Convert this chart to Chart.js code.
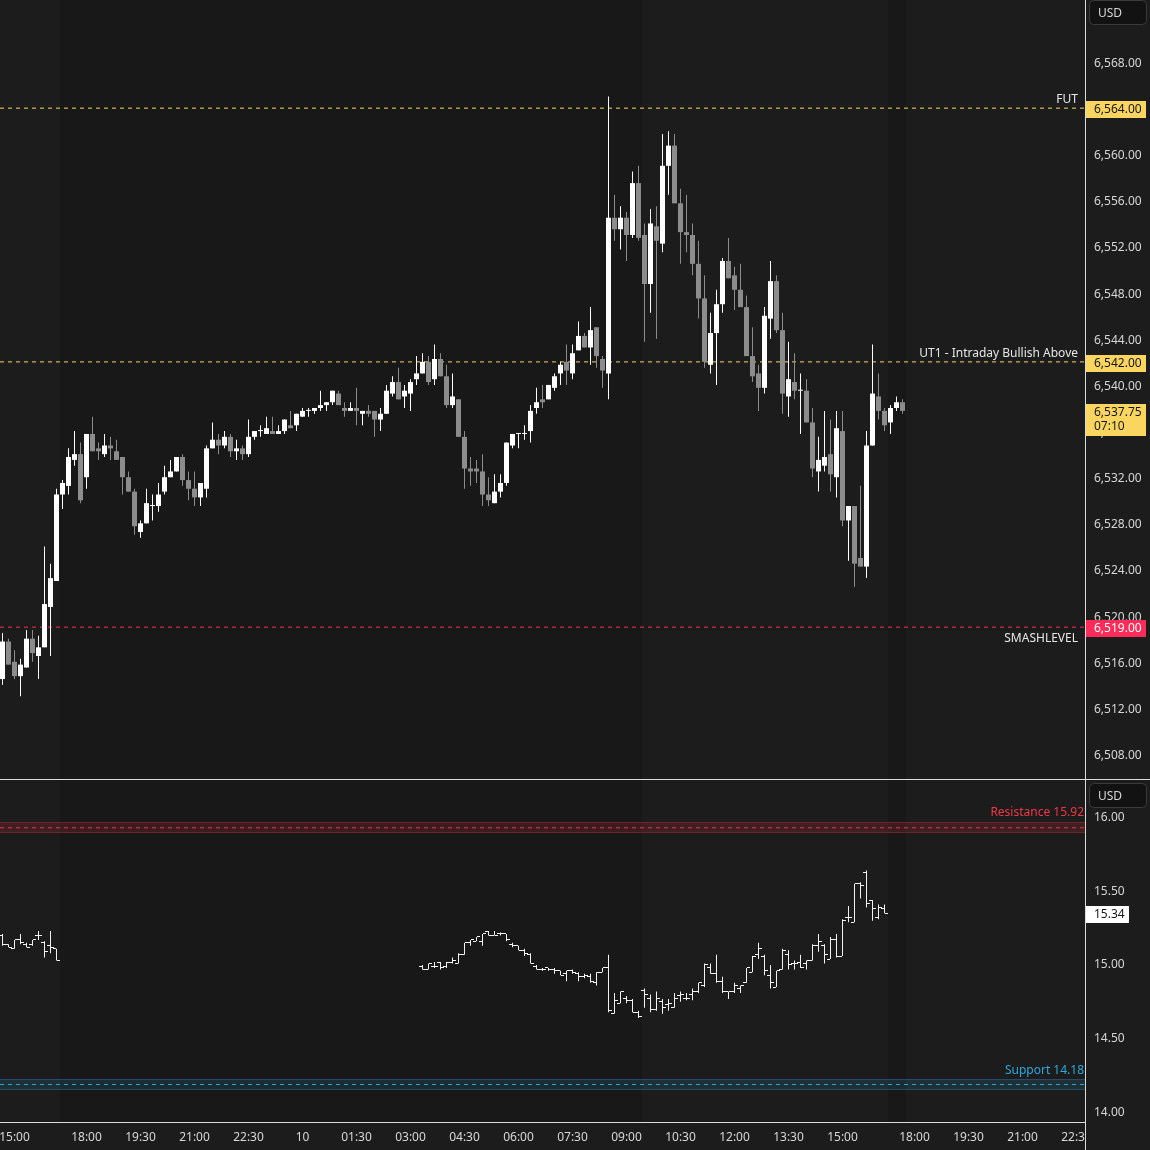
<!DOCTYPE html>
<html>
<head>
<meta charset="utf-8">
<script src="https://cdn.jsdelivr.net/npm/chart.js@4.4.1/dist/chart.umd.min.js"></script>
<style>
  html, body { margin: 0; padding: 0; background: #1c1c1c; }
  #wrap { width: 1150px; height: 1150px; }
</style>
</head>
<body>
<div id="wrap"><canvas id="chart" width="1150" height="1150"></canvas></div>
<script>
// ES 10 minute bars, bar index 0 = first bar on screen
const esOpen = [
  6514.50, 6517.75, 6516.00, 6514.75, 6515.50, 6518.00, 6516.50, 6517.25, 6520.75, 6523.00,
  6530.50, 6531.25, 6533.50, 6534.00, 6532.00, 6535.75, 6534.50, 6534.00, 6534.75, 6534.25,
  6533.75, 6532.00, 6530.75, 6527.25, 6528.00, 6529.50, 6529.50, 6530.75, 6532.00, 6532.50,
  6533.75, 6531.75, 6531.00, 6530.25, 6531.00, 6534.50, 6535.25, 6534.75, 6535.50, 6534.25,
  6534.50, 6534.00, 6535.50, 6536.00, 6535.75, 6536.00, 6535.75, 6536.00, 6536.50, 6536.50,
  6537.25, 6537.75, 6537.75, 6538.00, 6538.25, 6538.50, 6539.25, 6538.00, 6537.75, 6538.00,
  6537.50, 6537.75, 6537.75, 6537.00, 6537.50, 6539.25, 6540.25, 6539.00, 6539.25, 6540.50,
  6541.00, 6542.00, 6540.50, 6542.25, 6540.75, 6538.25, 6538.75, 6535.50, 6532.75, 6532.75,
  6532.50, 6530.50, 6529.75, 6530.75, 6531.50, 6534.75, 6535.75, 6535.75, 6536.00, 6538.00,
  6538.75, 6538.75, 6539.75, 6541.00, 6542.00, 6541.00, 6543.00, 6544.25, 6543.25, 6545.00,
  6542.25, 6541.00, 6554.50, 6553.50, 6554.50, 6553.00, 6557.50, 6553.00, 6548.75, 6553.75,
  6552.25, 6559.00, 6560.75, 6555.75, 6553.25, 6553.00, 6550.50, 6547.50, 6541.75, 6544.50,
  6547.00, 6550.75, 6549.50, 6548.25, 6546.75, 6542.50, 6541.00, 6539.75, 6545.75, 6549.00,
  6544.75, 6539.00, 6540.25, 6539.50, 6539.50, 6536.75, 6532.50, 6533.00, 6534.00, 6532.00,
  6536.00, 6528.25, 6529.50, 6525.00, 6524.25, 6534.75, 6539.00, 6537.75, 6536.75, 6538.00,
  6538.50
];
const esHigh = [
  6518.50, 6518.00, 6517.00, 6516.25, 6518.75, 6518.75, 6518.25, 6526.00, 6524.50, 6531.00,
  6531.75, 6534.50, 6536.00, 6535.00, 6535.75, 6537.25, 6535.00, 6535.75, 6535.50, 6535.25,
  6533.75, 6532.50, 6531.00, 6528.25, 6531.00, 6530.50, 6531.50, 6533.00, 6533.50, 6533.75,
  6534.00, 6532.50, 6532.50, 6531.50, 6534.75, 6536.75, 6535.75, 6536.00, 6535.75, 6535.25,
  6534.75, 6537.00, 6536.00, 6536.50, 6537.25, 6537.25, 6536.50, 6537.00, 6537.75, 6537.50,
  6538.00, 6538.00, 6538.00, 6539.50, 6538.50, 6539.50, 6539.50, 6538.50, 6538.50, 6539.75,
  6537.75, 6538.25, 6537.75, 6538.00, 6540.00, 6540.75, 6541.50, 6540.00, 6540.50, 6542.50,
  6542.75, 6542.50, 6543.50, 6542.75, 6541.75, 6541.00, 6538.75, 6536.00, 6533.75, 6533.50,
  6534.00, 6532.00, 6532.25, 6532.25, 6535.00, 6535.75, 6535.75, 6536.50, 6538.25, 6539.75,
  6540.00, 6540.00, 6541.00, 6542.00, 6543.50, 6543.50, 6545.50, 6544.50, 6546.75, 6545.00,
  6542.50, 6565.00, 6556.50, 6555.50, 6555.00, 6558.50, 6559.00, 6554.00, 6555.25, 6555.50,
  6561.75, 6562.00, 6561.75, 6557.00, 6556.50, 6554.00, 6552.50, 6549.50, 6546.25, 6548.25,
  6551.00, 6552.75, 6550.25, 6550.50, 6547.75, 6545.00, 6541.75, 6546.75, 6550.75, 6549.50,
  6546.25, 6543.75, 6542.75, 6541.00, 6540.50, 6538.00, 6535.50, 6537.75, 6537.00, 6537.75,
  6537.75, 6529.50, 6529.50, 6531.25, 6536.00, 6543.50, 6541.00, 6538.00, 6538.25, 6539.00,
  6538.75
];
const esLow = [
  6514.00, 6515.75, 6514.50, 6513.00, 6515.50, 6516.00, 6514.50, 6517.25, 6516.50, 6523.00,
  6529.25, 6530.50, 6533.00, 6529.75, 6531.00, 6534.25, 6533.50, 6533.75, 6533.50, 6533.50,
  6530.50, 6530.75, 6527.00, 6526.75, 6528.00, 6528.25, 6529.00, 6530.50, 6532.00, 6532.50,
  6531.25, 6530.00, 6529.50, 6529.50, 6530.25, 6534.50, 6534.00, 6534.50, 6533.75, 6533.50,
  6533.50, 6533.75, 6535.25, 6535.50, 6535.75, 6535.75, 6535.75, 6535.75, 6536.25, 6536.00,
  6537.25, 6537.25, 6537.50, 6537.75, 6537.75, 6538.25, 6538.25, 6537.25, 6537.75, 6536.50,
  6536.50, 6537.25, 6535.50, 6536.00, 6537.50, 6539.00, 6538.75, 6538.00, 6537.75, 6540.00,
  6541.00, 6540.00, 6540.00, 6540.75, 6538.00, 6538.00, 6535.50, 6531.00, 6531.25, 6531.50,
  6529.50, 6529.50, 6529.75, 6530.25, 6531.25, 6534.50, 6534.50, 6535.25, 6535.00, 6537.50,
  6538.00, 6538.75, 6539.50, 6540.00, 6540.00, 6540.50, 6543.00, 6543.25, 6541.75, 6541.50,
  6539.75, 6538.75, 6552.50, 6551.75, 6550.75, 6552.75, 6552.50, 6543.75, 6546.25, 6544.00,
  6551.50, 6556.50, 6555.75, 6550.50, 6551.50, 6549.50, 6545.75, 6541.50, 6541.00, 6540.00,
  6546.25, 6549.25, 6546.50, 6546.75, 6542.50, 6540.25, 6537.75, 6539.25, 6544.00, 6544.50,
  6537.50, 6537.25, 6538.75, 6535.75, 6536.75, 6532.00, 6530.75, 6532.50, 6530.75, 6530.25,
  6527.75, 6524.75, 6522.50, 6524.25, 6523.25, 6534.75, 6537.00, 6536.00, 6535.75, 6537.75,
  6537.50
];
const esClose = [
  6517.75, 6515.75, 6514.75, 6515.75, 6518.00, 6516.75, 6517.25, 6521.00, 6523.25, 6530.50,
  6531.50, 6533.75, 6534.00, 6530.00, 6535.75, 6534.25, 6534.25, 6534.75, 6534.50, 6533.50,
  6532.00, 6530.75, 6527.75, 6528.00, 6529.75, 6529.50, 6530.50, 6532.00, 6532.50, 6533.75,
  6531.75, 6531.00, 6530.25, 6531.50, 6534.50, 6535.25, 6534.75, 6535.50, 6534.25, 6534.50,
  6534.00, 6535.50, 6536.00, 6536.00, 6536.25, 6535.75, 6536.00, 6537.00, 6536.25, 6537.50,
  6537.75, 6537.75, 6538.00, 6538.25, 6538.50, 6539.50, 6538.25, 6537.75, 6538.00, 6537.75,
  6537.75, 6537.50, 6537.00, 6537.50, 6539.50, 6540.25, 6538.75, 6539.50, 6540.25, 6541.00,
  6542.00, 6540.25, 6542.25, 6540.75, 6538.25, 6539.00, 6535.50, 6532.75, 6532.50, 6532.50,
  6530.50, 6530.00, 6530.75, 6531.50, 6535.00, 6535.75, 6535.75, 6535.75, 6537.75, 6538.50,
  6538.50, 6540.00, 6540.75, 6541.75, 6541.25, 6542.75, 6544.25, 6543.25, 6544.75, 6542.50,
  6541.25, 6554.50, 6553.50, 6554.50, 6553.00, 6557.50, 6552.75, 6548.75, 6554.00, 6552.50,
  6559.00, 6560.75, 6555.75, 6553.25, 6553.00, 6550.50, 6547.50, 6542.00, 6544.50, 6547.00,
  6550.75, 6549.25, 6548.25, 6546.75, 6542.50, 6540.75, 6539.75, 6546.00, 6549.00, 6544.75,
  6539.25, 6540.50, 6539.50, 6539.50, 6536.75, 6532.75, 6533.50, 6533.75, 6532.25, 6536.25,
  6528.25, 6529.50, 6524.50, 6524.25, 6534.75, 6539.25, 6537.75, 6536.50, 6538.00, 6538.50,
  6537.75
];

// lower pane, [open, high, low, close]; two trading stretches
const vixStartA = 0;
const vixA = [
  [15.19, 15.20, 15.12, 15.13], [15.13, 15.13, 15.11, 15.11], [15.10, 15.16, 15.10, 15.16],
  [15.16, 15.20, 15.13, 15.14], [15.13, 15.14, 15.11, 15.11], [15.13, 15.16, 15.12, 15.16],
  [15.19, 15.22, 15.16, 15.19], [15.14, 15.15, 15.04, 15.08], [15.12, 15.22, 15.07, 15.11],
  [15.10, 15.10, 15.02, 15.02]
];
const vixStartB = 70;
const vixB = [
  [14.98, 14.99, 14.96, 14.96], [14.96, 15.00, 14.96, 15.00], [14.98, 15.01, 14.97, 14.98],
  [15.01, 15.01, 14.96, 14.97], [14.98, 15.01, 14.97, 15.01], [15.01, 15.04, 15.00, 15.02],
  [15.00, 15.07, 15.00, 15.06], [15.06, 15.14, 15.06, 15.14], [15.14, 15.16, 15.12, 15.16],
  [15.15, 15.18, 15.15, 15.18], [15.15, 15.20, 15.12, 15.20], [15.22, 15.22, 15.19, 15.19],
  [15.19, 15.22, 15.19, 15.19], [15.20, 15.21, 15.19, 15.20], [15.20, 15.20, 15.15, 15.16],
  [15.13, 15.14, 15.11, 15.12], [15.12, 15.12, 15.09, 15.09], [15.09, 15.10, 15.05, 15.07],
  [15.06, 15.07, 15.00, 15.00], [14.98, 14.99, 14.96, 14.96], [14.96, 14.97, 14.95, 14.96],
  [14.97, 14.97, 14.95, 14.96], [14.96, 14.97, 14.93, 14.95], [14.95, 14.95, 14.92, 14.92],
  [14.93, 14.95, 14.88, 14.95], [14.95, 14.96, 14.93, 14.94], [14.93, 14.94, 14.88, 14.91],
  [14.91, 14.93, 14.90, 14.92], [14.91, 14.93, 14.87, 14.88], [14.87, 14.94, 14.85, 14.94],
  [14.94, 14.97, 14.94, 14.97], [14.97, 15.06, 14.67, 14.68], [14.66, 14.80, 14.66, 14.75],
  [14.73, 14.81, 14.73, 14.81], [14.76, 14.78, 14.73, 14.75], [14.75, 14.76, 14.67, 14.67],
  [14.67, 14.68, 14.63, 14.64], [14.82, 14.83, 14.70, 14.79], [14.76, 14.79, 14.67, 14.69],
  [14.69, 14.81, 14.68, 14.76], [14.74, 14.76, 14.66, 14.70], [14.72, 14.76, 14.68, 14.73],
  [14.70, 14.80, 14.70, 14.76], [14.78, 14.81, 14.74, 14.79], [14.76, 14.80, 14.75, 14.76],
  [14.79, 14.83, 14.75, 14.81], [14.81, 14.87, 14.80, 14.87], [14.85, 15.00, 14.84, 14.99],
  [14.97, 15.00, 14.93, 14.93], [14.93, 15.06, 14.87, 14.88], [14.88, 14.91, 14.80, 14.81],
  [14.81, 14.81, 14.76, 14.81], [14.81, 14.87, 14.80, 14.85], [14.83, 14.85, 14.80, 14.85],
  [14.87, 14.97, 14.87, 14.97], [14.94, 15.05, 14.94, 15.05], [15.06, 15.14, 15.03, 15.10],
  [15.05, 15.06, 14.92, 14.95], [14.92, 14.99, 14.83, 14.87], [14.84, 14.95, 14.84, 14.95],
  [14.96, 15.10, 14.96, 15.09], [15.06, 15.09, 14.96, 14.99], [15.00, 15.02, 14.96, 15.00],
  [15.01, 15.06, 14.97, 14.97], [15.00, 15.02, 14.96, 15.02], [15.02, 15.13, 15.02, 15.12],
  [15.12, 15.20, 15.08, 15.15], [15.12, 15.13, 15.00, 15.06], [15.03, 15.18, 15.03, 15.16],
  [15.16, 15.20, 15.04, 15.05], [15.05, 15.30, 15.05, 15.29], [15.31, 15.39, 15.28, 15.31],
  [15.28, 15.54, 15.28, 15.54], [15.54, 15.55, 15.44, 15.53], [15.62, 15.63, 15.38, 15.41],
  [15.43, 15.43, 15.29, 15.37], [15.31, 15.40, 15.30, 15.38], [15.37, 15.40, 15.34, 15.34]
];

const esTicks = [6508, 6512, 6516, 6520, 6524, 6528, 6532, 6536, 6540, 6544, 6548, 6552, 6556, 6560, 6564, 6568];
const vixTicks = [14.00, 14.50, 15.00, 15.50, 16.00];
const timeTickBars = [2, 14, 23, 32, 41, 50, 59, 68, 77, 86, 95, 104, 113, 122, 131, 140, 152, 161, 170, 179];
const timeTickLabels = ['15:00', '18:00', '19:30', '21:00', '22:30', '10', '01:30', '03:00', '04:30', '06:00',
  '07:30', '09:00', '10:30', '12:00', '13:30', '15:00', '18:00', '19:30', '21:00', '22:30'];

// extended hours (darker background), in bar index units
const ethRanges = [[9.5, 106.5], [147.5, 150.5]];

// levels
const esLevelNames = ['FUT', 'UT1 - Intraday Bullish Above', 'SMASHLEVEL'];
const esLevelPrices = [6564, 6542, 6519];
const esLastPrice = 6537.75;
const barCountdown = '07:10';
const vixLevelNames = ['Resistance', 'Support'];
const vixLevelValues = [15.92, 14.18];
const vixLast = 15.34;

const X_MIN = -5 / 12, X_MAX = 180 + 5 / 12;
const BG = '#1c1c1c', BG_ETH = '#181818';
const UP = '#ffffff', DOWN = '#8c8c8c';
const YELLOW = '#fad560', PINK = '#ff2b58', RED = '#f23645', BLUE = '#2aa8e0';
const TXT = '#d6d6d6';
const FONT = "'Noto Sans', sans-serif";
const DY = 1.5; // nudge canvas text down to match the glyph centres

Chart.defaults.font.family = FONT;
Chart.defaults.font.size = 12;
Chart.defaults.color = TXT;

const esColors = esOpen.map((o, i) => esClose[i] >= o ? UP : DOWN);

const vixRows = [];
vixA.forEach((r, i) => vixRows.push({ x: vixStartA + i, r }));
vixB.forEach((r, i) => vixRows.push({ x: vixStartB + i, r }));

// little tick marks for the OHLC bars (left = open, right = close)
function tickImage(side) {
  const c = document.createElement('canvas');
  c.width = 7; c.height = 1;
  const g = c.getContext('2d');
  g.fillStyle = '#f2f2f2';
  if (side === 'open') g.fillRect(0, 0, 3, 1);
  else g.fillRect(4, 0, 3, 1);
  return c;
}

function levelLine(value, color, axis) {
  return {
    type: 'line', yAxisID: axis, order: 10,
    data: [{ x: X_MIN, y: value }, { x: X_MAX, y: value }],
    borderColor: color, borderWidth: 1, borderDash: [4, 4],
    pointRadius: 0
  };
}

function noPad(s) {
  s.paddingLeft = 0; s.paddingRight = 0; s.paddingTop = 0; s.paddingBottom = 0;
}

const fmtPrice = v => Number(v).toLocaleString('en-US', { minimumFractionDigits: 2, maximumFractionDigits: 2 });

const decor = {
  id: 'decor',
  beforeDraw(chart) {
    const { ctx, chartArea: a, scales: { x, yBot } } = chart;
    ctx.save();
    ctx.fillStyle = BG;
    ctx.fillRect(0, 0, chart.width, chart.height);
    ctx.fillStyle = BG_ETH;
    ethRanges.forEach(([s, e]) => {
      const x0 = Math.round(x.getPixelForValue(s)), x1 = Math.round(x.getPixelForValue(e));
      ctx.fillRect(x0, a.top, x1 - x0, a.bottom - a.top);
    });
    // support / resistance zones
    const zones = [[vixLevelValues[0], 'rgba(242,54,69,0.16)', 'rgba(242,54,69,0.28)'],
                   [vixLevelValues[1], 'rgba(42,168,224,0.14)', 'rgba(42,168,224,0.26)']];
    zones.forEach(([v, fill, edge]) => {
      const y0 = Math.round(yBot.getPixelForValue(v + 0.037)), y1 = Math.round(yBot.getPixelForValue(v - 0.037));
      ctx.fillStyle = fill;
      ctx.fillRect(a.left, y0, a.right - a.left, y1 - y0);
      ctx.fillStyle = edge;
      ctx.fillRect(a.left, y0, a.right - a.left, 1);
      ctx.fillRect(a.left, y1 - 1, a.right - a.left, 1);
    });
    ctx.restore();
  },
  afterDatasetsDraw(chart) {
    const { ctx, chartArea: a, scales: { yTop, yBot } } = chart;
    ctx.save();
    ctx.font = '12px ' + FONT;
    ctx.textAlign = 'right';
    ctx.textBaseline = 'middle';
    ctx.fillStyle = '#e6e6e6';
    esLevelNames.forEach((name, i) => {
      const y = yTop.getPixelForValue(esLevelPrices[i]) + DY;
      ctx.fillText(name, a.right - 7, name === 'SMASHLEVEL' ? y + 10 : y - 10);
    });
    ctx.fillStyle = RED;
    ctx.fillText(vixLevelNames[0] + ' ' + vixLevelValues[0].toFixed(2), a.right - 1, yBot.getPixelForValue(vixLevelValues[0]) - 17 + DY);
    ctx.fillStyle = BLUE;
    ctx.fillText(vixLevelNames[1] + ' ' + vixLevelValues[1].toFixed(2), a.right - 1, yBot.getPixelForValue(vixLevelValues[1]) - 15 + DY);
    ctx.restore();
  },
  afterDraw(chart) {
    const { ctx, chartArea: a, scales: { yTop, yBot } } = chart;
    const W = chart.width, H = chart.height;
    ctx.save();
    // clip the time labels at the price scale
    ctx.fillStyle = BG;
    ctx.fillRect(a.right + 1, a.bottom + 1, W - a.right, H - a.bottom);
    // frame lines
    ctx.fillStyle = '#dcdcdc';
    ctx.fillRect(a.right, 0, 1, H);
    ctx.fillRect(0, Math.round(yTop.bottom), W, 1);
    ctx.fillRect(0, a.bottom, a.right, 1);

    ctx.font = '12px ' + FONT;
    ctx.textBaseline = 'middle';
    ctx.textAlign = 'left';
    const bx = a.right + 1, tx = a.right + 9;
    function badge(y, h, fill, color, lines, w) {
      ctx.fillStyle = fill;
      ctx.fillRect(bx, Math.round(y - 7), w || 60, h);
      ctx.fillStyle = color;
      lines.forEach((t, i) => ctx.fillText(t, tx, y + DY + i * 14));
    }
    badge(yTop.getPixelForValue(esLevelPrices[0]), 17, YELLOW, '#151515', [fmtPrice(esLevelPrices[0])]);
    badge(yTop.getPixelForValue(esLevelPrices[1]), 17, YELLOW, '#151515', [fmtPrice(esLevelPrices[1])]);
    badge(yTop.getPixelForValue(esLastPrice), 32, YELLOW, '#151515', [fmtPrice(esLastPrice), barCountdown]);
    badge(yTop.getPixelForValue(esLevelPrices[2]), 17, PINK, '#ffffff', [fmtPrice(esLevelPrices[2])]);
    badge(yBot.getPixelForValue(vixLast), 17, '#ffffff', '#151515', [vixLast.toFixed(2)], 43);

    // currency boxes
    [yTop.top, yBot.top].forEach(top => {
      const y0 = top + (top === yTop.top ? 0 : 4);
      ctx.beginPath();
      ctx.roundRect(a.right + 4.5, y0 + 0.5, 57, 24, 4);
      ctx.fillStyle = '#121212';
      ctx.fill();
      ctx.strokeStyle = '#3a3a3a';
      ctx.lineWidth = 1;
      ctx.stroke();
      ctx.fillStyle = TXT;
      ctx.fillText('USD', a.right + 13, y0 + 12.5 + DY);
    });
    ctx.restore();
  }
};

new Chart(document.getElementById('chart').getContext('2d'), {
  type: 'bar',
  data: {
    datasets: [
      {
        label: 'ES bodies', yAxisID: 'yTop', order: 0,
        data: esOpen.map((o, i) => ({ x: i, y: [o, esClose[i]] })),
        backgroundColor: esColors, barThickness: 5, minBarLength: 1,
        grouped: false, inflateAmount: 0
      },
      {
        label: 'ES wicks', yAxisID: 'yTop', order: 1,
        data: esHigh.map((h, i) => ({ x: i, y: [esLow[i], h] })),
        backgroundColor: esColors, barThickness: 1, minBarLength: 1,
        grouped: false, inflateAmount: 0
      },
      {
        label: 'VIX range', yAxisID: 'yBot', order: 1,
        data: vixRows.map(d => ({ x: d.x, y: [d.r[2], d.r[1]] })),
        backgroundColor: '#f2f2f2', barThickness: 1, minBarLength: 1,
        grouped: false, inflateAmount: 0
      },
      {
        type: 'line', label: 'VIX open', yAxisID: 'yBot', order: 0, showLine: false,
        data: vixRows.map(d => ({ x: d.x, y: d.r[0] })),
        pointStyle: tickImage('open'), pointRadius: 2
      },
      {
        type: 'line', label: 'VIX close', yAxisID: 'yBot', order: 0, showLine: false,
        data: vixRows.map(d => ({ x: d.x, y: d.r[3] })),
        pointStyle: tickImage('close'), pointRadius: 2
      },
      levelLine(esLevelPrices[0], YELLOW, 'yTop'),
      levelLine(esLevelPrices[1], YELLOW, 'yTop'),
      levelLine(esLevelPrices[2], PINK, 'yTop'),
      levelLine(vixLevelValues[0], RED, 'yBot'),
      levelLine(vixLevelValues[1], BLUE, 'yBot')
    ]
  },
  options: {
    responsive: false,
    devicePixelRatio: 1,
    animation: false,
    events: [],
    layout: { padding: 0, autoPadding: false },
    plugins: { legend: { display: false }, tooltip: { enabled: false } },
    scales: {
      x: {
        type: 'linear', position: 'bottom', min: X_MIN, max: X_MAX, offset: false,
        grid: { display: false, drawTicks: false }, border: { display: false },
        afterBuildTicks: s => { s.ticks = timeTickBars.map(v => ({ value: v })); },
        afterFit: s => { s.height = 28; noPad(s); },
        ticks: {
          autoSkip: false, maxRotation: 0, minRotation: 0, padding: 8, color: TXT,
          callback: v => timeTickLabels[timeTickBars.indexOf(v)]
        }
      },
      yTop: {
        type: 'linear', position: 'right', stack: 'panes', stackWeight: 779,
        min: 6505.833, max: 6573.376,
        grid: { display: false, drawTicks: false }, border: { display: false },
        afterBuildTicks: s => { s.ticks = esTicks.map(v => ({ value: v })); },
        afterFit: s => { s.width = 65; noPad(s); },
        ticks: { padding: 9, labelOffset: 1.5, color: TXT, callback: v => fmtPrice(v) }
      },
      yBot: {
        type: 'linear', position: 'right', stack: 'panes', stackWeight: 343,
        min: 13.9254, max: 16.2508,
        grid: { display: false, drawTicks: false }, border: { display: false },
        afterBuildTicks: s => { s.ticks = vixTicks.map(v => ({ value: v })); },
        afterFit: s => { s.width = 65; noPad(s); },
        ticks: { padding: 9, labelOffset: 1.5, color: TXT, callback: v => Number(v).toFixed(2) }
      }
    }
  },
  plugins: [decor]
});
</script>
</body>
</html>
